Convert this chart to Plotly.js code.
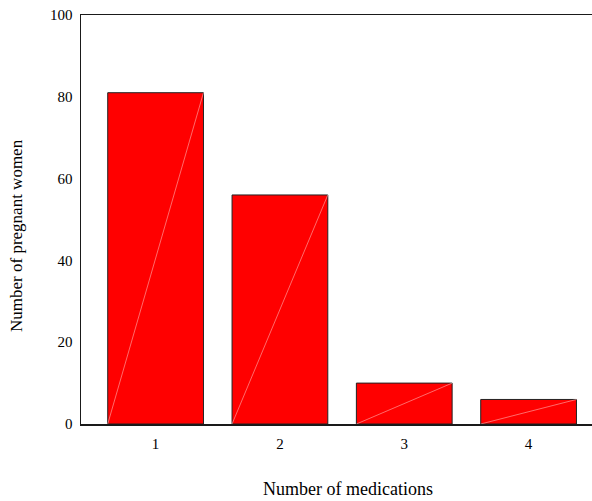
<!DOCTYPE html>
<html>
<head>
<meta charset="utf-8">
<script src="https://cdn.plot.ly/plotly-3.0.1.min.js"></script>
<style>html,body{margin:0;padding:0;background:#fff;overflow:hidden;}#chart{width:592px;height:501px;}</style>
</head>
<body>
<div id="chart"></div>
<script>
const categories = [1, 2, 3, 4];
const tickLabels = ["1", "2", "3", "4"];
const pregnantWomen = [81, 56, 10, 6];
const yTicks = [0, 20, 40, 60, 80, 100];
const xTitle = "Number of medications";
const yTitle = "Number of pregnant women";

const barWidth = 0.77;
const serif = "Liberation Serif, Times New Roman, serif";

const traces = [{
  type: "bar",
  x: categories,
  y: pregnantWomen,
  width: barWidth,
  marker: {color: "#ff0000", line: {color: "#222", width: 1}},
  hoverinfo: "x+y"
}];

// faint diagonal rendering artifact inside each bar (bottom-left to top-right)
const dx = [], dy = [];
categories.forEach((c, i) => {
  dx.push(c - barWidth / 2, c + barWidth / 2, null);
  dy.push(0, pregnantWomen[i], null);
});
traces.push({
  type: "scatter", mode: "lines", x: dx, y: dy,
  line: {color: "rgba(255,190,190,0.7)", width: 0.8},
  hoverinfo: "skip", showlegend: false
});

const layout = {
  width: 592, height: 501,
  margin: {l: 81, r: 0, t: 15, b: 77},
  paper_bgcolor: "#fff", plot_bgcolor: "#fff",
  showlegend: false,
  font: {family: serif, color: "#000", size: 15},
  xaxis: {
    range: [0.4, 4.51],
    tickvals: categories, ticktext: tickLabels,
    showgrid: false, zeroline: false,
    showline: true, mirror: true, linecolor: "#1a1a1a", linewidth: 1.5,
    ticks: "", tickfont: {size: 15}, ticklabelstandoff: 5
  },
  yaxis: {
    range: [0, 100],
    tickvals: yTicks,
    showgrid: false, zeroline: false,
    showline: true, linecolor: "#1a1a1a", linewidth: 1.5,
    ticks: "", tickfont: {size: 15}, ticklabelstandoff: 4
  },
  annotations: [
    {text: xTitle, xref: "paper", yref: "paper", x: 0.522, y: -0.160,
     xanchor: "center", yanchor: "middle", showarrow: false, font: {size: 18}},
    {text: yTitle, xref: "paper", yref: "paper", x: -0.125, y: 0.46,
     xanchor: "center", yanchor: "middle", textangle: -90, showarrow: false, font: {size: 17}}
  ]
};

Plotly.newPlot("chart", traces, layout, {displayModeBar: false, staticPlot: true});
</script>
</body>
</html>
